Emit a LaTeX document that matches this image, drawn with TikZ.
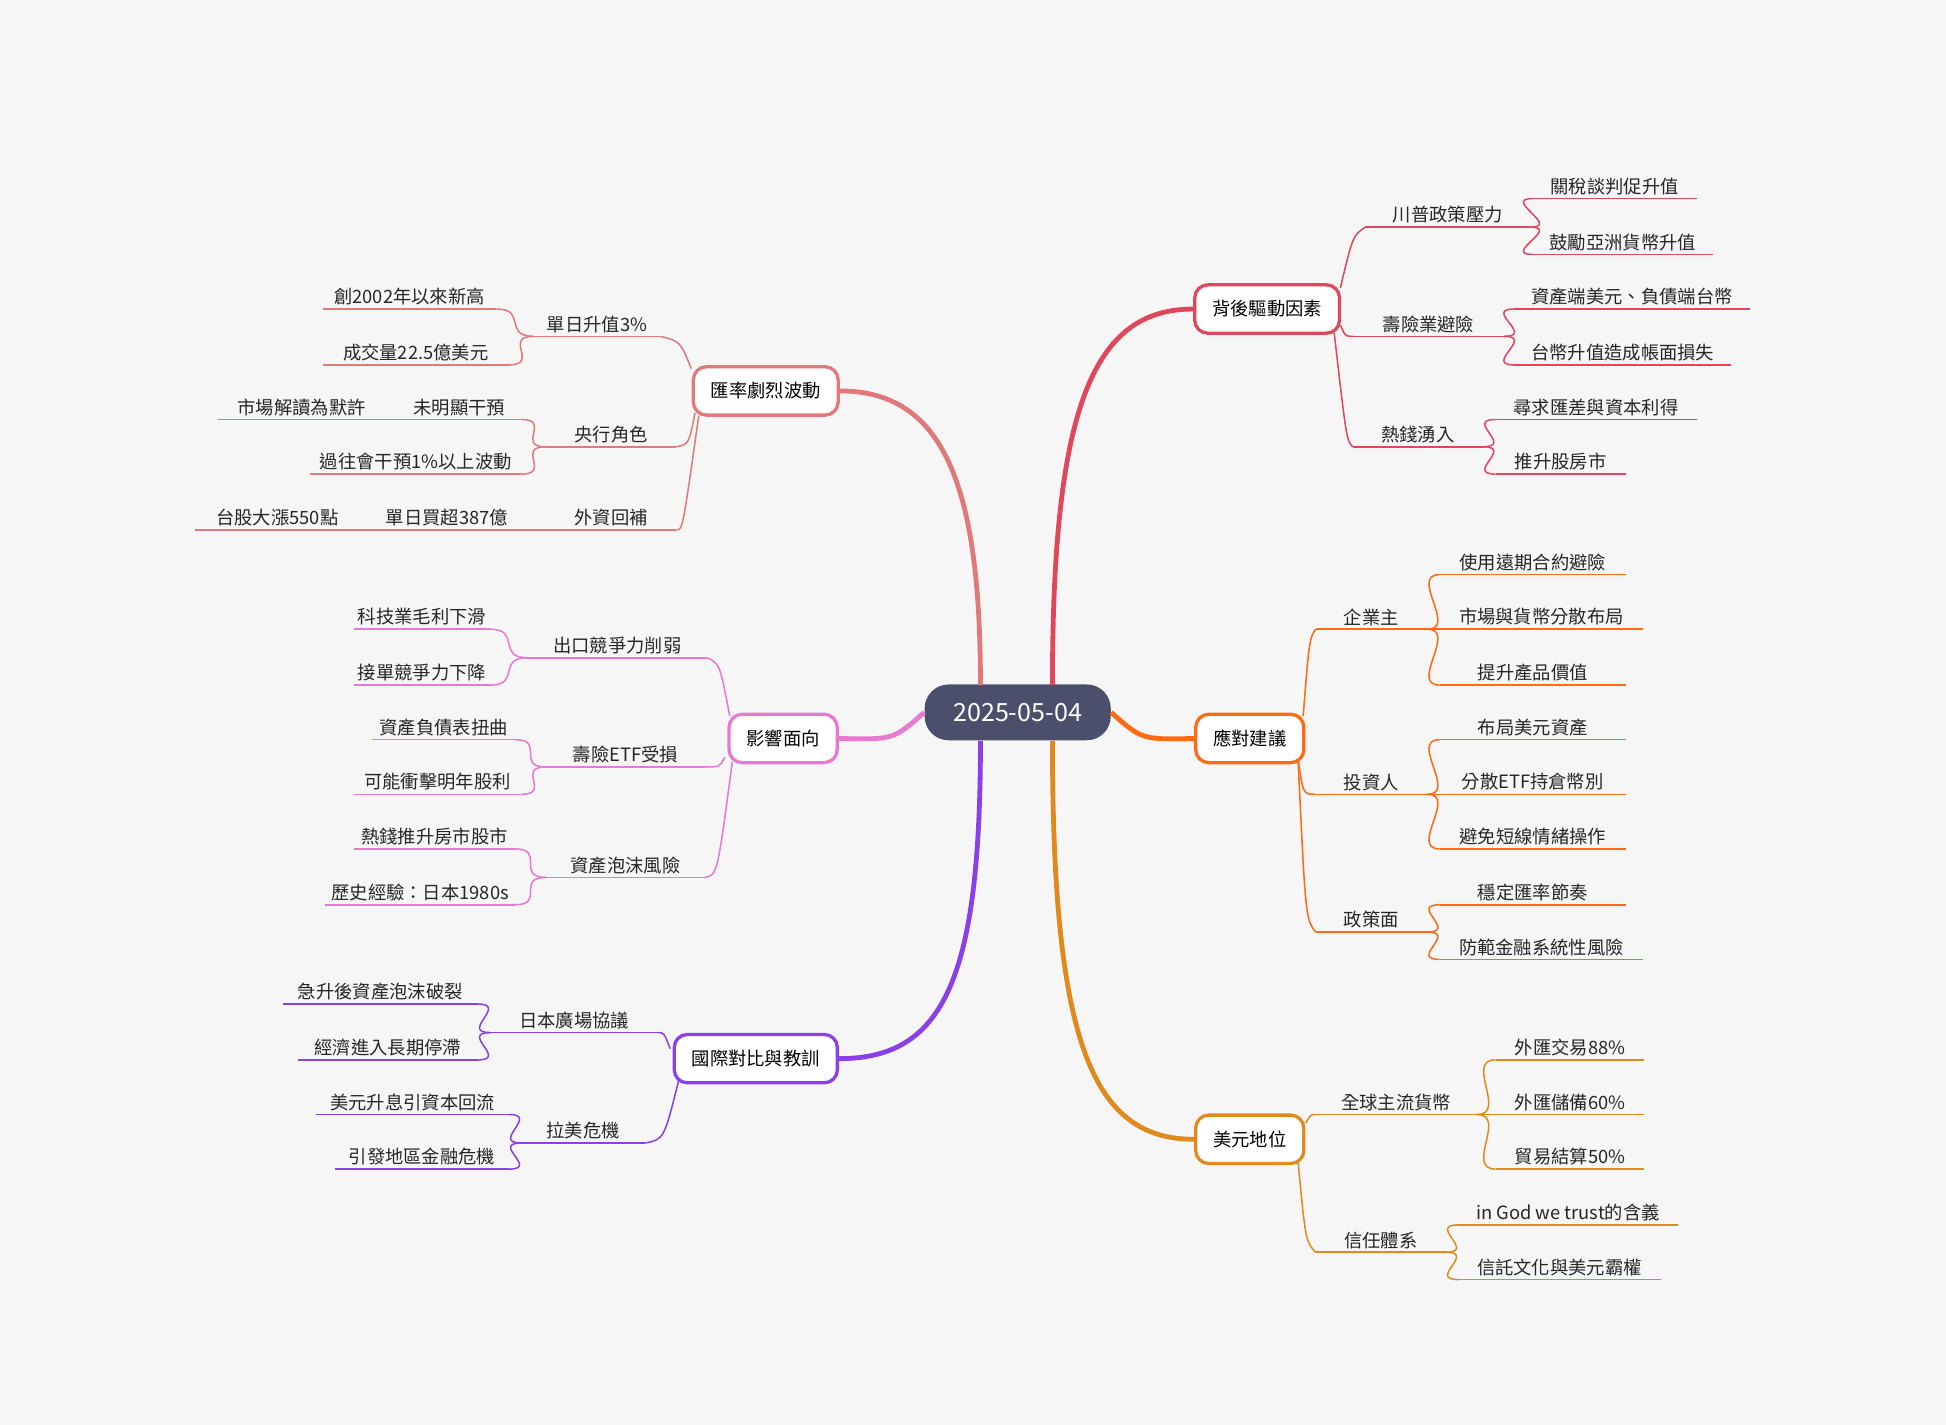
\documentclass[tikz,border=0pt]{standalone}
\usepackage{fontspec}
\setmainfont{Noto Sans CJK TC}
\definecolor{bgc}{HTML}{F6F6F6}
\definecolor{rootc}{HTML}{4B4F6B}
\definecolor{cRed}{HTML}{E0475A}
\definecolor{cOrg}{HTML}{FF6A13}
\definecolor{cGold}{HTML}{E08A1E}
\definecolor{cRose}{HTML}{E07A7A}
\definecolor{cPink}{HTML}{E878D0}
\definecolor{cPurp}{HTML}{8A3FE8}
\tikzset{
  txt/.style={inner sep=1.5pt, font=\fontsize{8.4}{10}\selectfont, text=black!85},
  mainbox/.style={draw, rounded corners=6pt, line width=1.5pt, fill=white,
    minimum height=0.78cm, inner xsep=8pt, font=\fontsize{8.4}{10}\selectfont},
  branch/.style={line width=2.2pt},
  twig/.style={line width=0.7pt}
}
% underline topic: name, colour, x1, x2, y, text
\newcommand\topic[6]{%
  \coordinate (#1-l) at (#3,#5); \coordinate (#1-r) at (#4,#5);
  \draw[twig,#2] (#1-l) -- (#1-r);
  \node[txt,above] (#1) at ({(#3+#4)/2},#5) {#6};}
\newcommand\rlink[3]{\draw[twig,#1] (#2) .. controls +(25,0) and +(-25,0) .. (#3);}
\newcommand\llink[3]{\draw[twig,#1] (#2) .. controls +(-25,0) and +(25,0) .. (#3);}
\begin{document}
\begin{tikzpicture}[x=0.02cm,y=-0.02cm]
\fill[bgc] (0,0) rectangle (1568,1148);
\useasboundingbox (0,0) rectangle (1568,1148);

% root
\node[fill=rootc, rounded corners=11pt, minimum width=3cm, minimum height=0.9cm,
  text=white, font=\fontsize{11.5}{13}\selectfont] (root) at (820,574) {2025-05-04};

% main boxes
\node[mainbox,draw=cRed] (drv) at (1021,249) {背後驅動因素};
\node[mainbox,draw=cOrg] (adv) at (1007,595) {應對建議};
\node[mainbox,draw=cGold] (usd) at (1007,918) {美元地位};
\node[mainbox,draw=cRose] (vol) at (617,315) {匯率劇烈波動};
\node[mainbox,draw=cPink] (imp) at (631,595) {影響面向};
\node[mainbox,draw=cPurp] (intl) at (609,853) {國際對比與教訓};

\draw[branch,cRed] (848,552) .. controls (848,330) and (880,249) .. (drv.west);
\draw[branch,cOrg] (root.east) .. controls (920,596) .. (adv.west);
\draw[branch,cGold] (848,597) .. controls (848,840) and (880,918) .. (usd.west);
\draw[branch,cRose] (790,552) .. controls (790,390) and (760,315) .. (vol.east);
\draw[branch,cPink] (root.west) .. controls (720,596) .. (imp.east);
\draw[branch,cPurp] (790,597) .. controls (790,790) and (760,853) .. (intl.east);

% 背後驅動因素
\topic{a1}{cRed}{1100}{1233}{183}{川普政策壓力}
\topic{a11}{cRed}{1235}{1367}{160}{關稅談判促升值}
\topic{a12}{cRed}{1235}{1380}{205}{鼓勵亞洲貨幣升值}
\topic{a2}{cRed}{1090}{1212}{271}{壽險業避險}
\topic{a21}{cRed}{1220}{1410}{249}{資產端美元、負債端台幣}
\topic{a22}{cRed}{1220}{1395}{294}{台幣升值造成帳面損失}
\topic{a3}{cRed}{1090}{1195}{360}{熱錢湧入}
\topic{a31}{cRed}{1205}{1367}{338}{尋求匯差與資本利得}
\topic{a32}{cRed}{1205}{1310}{382}{推升股房市}
\draw[twig,cRed] (1080,232) .. controls (1090,190) .. (a1-l);
\draw[twig,cRed] (1080,262) .. controls (1084,271) .. (a2-l);
\draw[twig,cRed] (1075,268) .. controls (1085,355) .. (a3-l);
\rlink{cRed}{a1-r}{a11-l} \rlink{cRed}{a1-r}{a12-l}
\rlink{cRed}{a2-r}{a21-l} \rlink{cRed}{a2-r}{a22-l}
\rlink{cRed}{a3-r}{a31-l} \rlink{cRed}{a3-r}{a32-l}

% 應對建議
\topic{b1}{cOrg}{1060}{1150}{507}{企業主}
\topic{b11}{cOrg}{1160}{1310}{463}{使用遠期合約避險}
\topic{b12}{cOrg}{1160}{1324}{507}{市場與貨幣分散布局}
\topic{b13}{cOrg}{1160}{1310}{552}{提升產品價值}
\topic{b2}{cOrg}{1060}{1150}{640}{投資人}
\topic{b21}{cOrg}{1160}{1310}{596}{布局美元資產}
\topic{b22}{cOrg}{1160}{1310}{640}{分散ETF持倉幣別}
\topic{b23}{cOrg}{1160}{1310}{684}{避免短線情緒操作}
\topic{b3}{cOrg}{1060}{1150}{751}{政策面}
\topic{b31}{cOrg}{1160}{1310}{729}{穩定匯率節奏}
\topic{b32}{cOrg}{1160}{1324}{773}{防範金融系統性風險}
\draw[twig,cOrg] (1050,577) .. controls (1055,515) .. (b1-l);
\draw[twig,cOrg] (1046,612) .. controls (1050,640) .. (b2-l);
\draw[twig,cOrg] (1046,614) .. controls (1052,740) .. (b3-l);
\rlink{cOrg}{b1-r}{b11-l} \rlink{cOrg}{b1-r}{b12-l} \rlink{cOrg}{b1-r}{b13-l}
\rlink{cOrg}{b2-r}{b21-l} \rlink{cOrg}{b2-r}{b22-l} \rlink{cOrg}{b2-r}{b23-l}
\rlink{cOrg}{b3-r}{b31-l} \rlink{cOrg}{b3-r}{b32-l}

% 美元地位
\topic{c1}{cGold}{1060}{1190}{898}{全球主流貨幣}
\topic{c11}{cGold}{1205}{1325}{854}{外匯交易88\%}
\topic{c12}{cGold}{1205}{1325}{898}{外匯儲備60\%}
\topic{c13}{cGold}{1205}{1325}{942}{貿易結算50\%}
\topic{c2}{cGold}{1060}{1165}{1009}{信任體系}
\topic{c21}{cGold}{1175}{1352}{987}{in God we trust的含義}
\topic{c22}{cGold}{1175}{1338}{1031}{信託文化與美元霸權}
\draw[twig,cGold] (1052,905) .. controls (1056,898) .. (c1-l);
\draw[twig,cGold] (1046,937) .. controls (1052,1000) .. (c2-l);
\rlink{cGold}{c1-r}{c11-l} \rlink{cGold}{c1-r}{c12-l} \rlink{cGold}{c1-r}{c13-l}
\rlink{cGold}{c2-r}{c21-l} \rlink{cGold}{c2-r}{c22-l}

% 匯率劇烈波動
\topic{d1}{cRose}{430}{532}{271}{單日升值3\%}
\topic{d11}{cRose}{260}{400}{249}{創2002年以來新高}
\topic{d12}{cRose}{260}{410}{294}{成交量22.5億美元}
\topic{d2}{cRose}{440}{545}{360}{央行角色}
\topic{d21}{cRose}{320}{420}{338}{未明顯干預}
\topic{d211}{cRose}{176}{310}{338}{市場解讀為默許}
\topic{d22}{cRose}{250}{420}{382}{過往會干預1\%以上波動}
\topic{d3}{cRose}{440}{545}{427}{外資回補}
\topic{d31}{cRose}{300}{420}{427}{單日買超387億}
\topic{d311}{cRose}{157}{290}{427}{台股大漲550點}
\draw[twig,cRose] (557,297) .. controls (548,275) .. (d1-r);
\draw[twig,cRose] (560,333) .. controls (555,358) .. (d2-r);
\draw[twig,cRose] (563,335) .. controls (550,427) .. (d3-r);
\llink{cRose}{d1-l}{d11-r} \llink{cRose}{d1-l}{d12-r}
\llink{cRose}{d2-l}{d21-r} \llink{cRose}{d2-l}{d22-r}
\draw[twig,cRose] (d21-l) -- (d211-r);
\draw[twig,cRose] (d3-l) -- (d31-r) (d31-l) -- (d311-r);

% 影響面向
\topic{e1}{cPink}{425}{570}{530}{出口競爭力削弱}
\topic{e11}{cPink}{285}{395}{507}{科技業毛利下滑}
\topic{e12}{cPink}{285}{395}{552}{接單競爭力下降}
\topic{e2}{cPink}{440}{568}{618}{壽險ETF受損}
\topic{e21}{cPink}{300}{415}{596}{資產負債表扭曲}
\topic{e22}{cPink}{285}{420}{640}{可能衝擊明年股利}
\topic{e3}{cPink}{440}{568}{707}{資產泡沫風險}
\topic{e31}{cPink}{285}{415}{684}{熱錢推升房市股市}
\topic{e32}{cPink}{262}{415}{729}{歷史經驗：日本1980s}
\draw[twig,cPink] (588,577) .. controls (580,535) .. (e1-r);
\draw[twig,cPink] (584,610) .. controls (580,618) .. (e2-r);
\draw[twig,cPink] (590,614) .. controls (578,705) .. (e3-r);
\llink{cPink}{e1-l}{e11-r} \llink{cPink}{e1-l}{e12-r}
\llink{cPink}{e2-l}{e21-r} \llink{cPink}{e2-l}{e22-r}
\llink{cPink}{e3-l}{e31-r} \llink{cPink}{e3-l}{e32-r}

% 國際對比與教訓
\topic{f1}{cPurp}{395}{530}{832}{日本廣場協議}
\topic{f11}{cPurp}{228}{385}{809}{急升後資產泡沫破裂}
\topic{f12}{cPurp}{240}{385}{854}{經濟進入長期停滯}
\topic{f2}{cPurp}{420}{520}{921}{拉美危機}
\topic{f21}{cPurp}{255}{410}{898}{美元升息引資本回流}
\topic{f22}{cPurp}{270}{410}{942}{引發地區金融危機}
\draw[twig,cPurp] (540,845) .. controls (535,832) .. (f1-r);
\draw[twig,cPurp] (547,870) .. controls (535,918) .. (f2-r);
\llink{cPurp}{f1-l}{f11-r} \llink{cPurp}{f1-l}{f12-r}
\llink{cPurp}{f2-l}{f21-r} \llink{cPurp}{f2-l}{f22-r}
\end{tikzpicture}
\end{document}
